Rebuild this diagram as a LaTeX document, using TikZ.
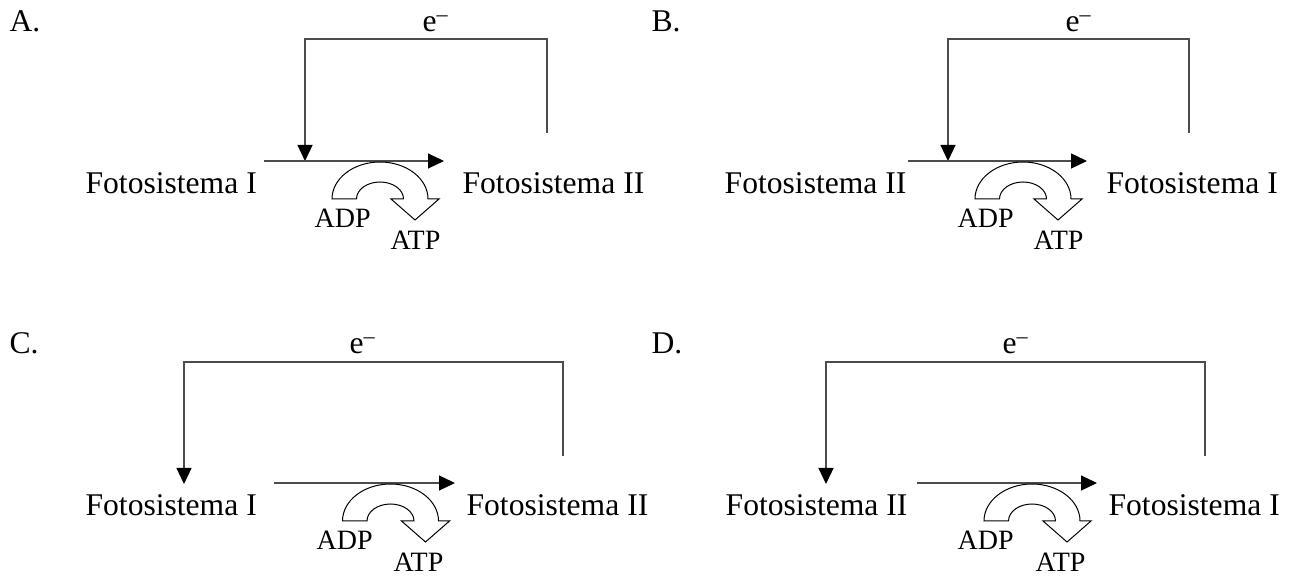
\documentclass[tikz,border=0pt]{standalone}
\usepackage{fontspec}
\setmainfont{Liberation Serif}
\usetikzlibrary{arrows.meta}

\begin{document}
\begin{tikzpicture}
  [x=0.5pt,y=-0.5pt,
   line width=0.6pt,
   every node/.style={inner sep=0pt,anchor=base west,font=\fontsize{15.8}{19}\selectfont},
   small/.style={font=\fontsize{14}{17}\selectfont},
   wire/.style={draw=black!70,-{Triangle[length=8pt,width=7.5pt,color=black]}},
   cycle arrow/.pic={
     \draw[fill=white,line width=0.5pt]
       (-48,0) arc[start angle=180,end angle=360,x radius=48,y radius=37]
       -- (59,0) -- (35,21) -- (11,0) -- (23.5,0)
       arc[start angle=360,end angle=180,x radius=23.5,y radius=17] -- cycle;
   }]
  \useasboundingbox (0,0) rectangle (1295,576);

  % A
  \node (alabel) at (9,32) {A.};
  \node (ae) at (422,32) {e\textsuperscript{–}};
  \node (aleft) at (85,194) {Fotosistema I};
  \node (aright) at (462,194) {Fotosistema II};
  \coordinate (atl) at (305,39);
  \coordinate (atr) at (547,39);
  \coordinate (aend) at (547,133);
  \coordinate (ain) at (264,161);
  \coordinate (aout) at (444,161);
  \draw[wire] (aend) -- (atr) -- (atl) -- (atl |- ain);
  \draw[wire] (ain) -- (aout);
  \pic (acycle) at (380,199) {cycle arrow};
  \node[small] (aadp) at (314,228) {ADP};
  \node[small] (aatp) at (390,250) {ATP};

  % B
  \node (blabel) at (651,32) {B.};
  \node (be) at (1065,32) {e\textsuperscript{–}};
  \node[anchor=base east] (bleft) at (907,194) {Fotosistema II};
  \node (bright) at (1106,194) {Fotosistema I};
  \coordinate (btl) at (948,39);
  \coordinate (btr) at (1189,39);
  \coordinate (bend) at (1189,133);
  \coordinate (bin) at (908,161);
  \coordinate (bout) at (1087,161);
  \draw[wire] (bend) -- (btr) -- (btl) -- (btl |- bin);
  \draw[wire] (bin) -- (bout);
  \pic (bcycle) at (1023,199) {cycle arrow};
  \node[small] (badp) at (957,228) {ADP};
  \node[small] (batp) at (1033,250) {ATP};

  % C
  \node (clabel) at (9,354) {C.};
  \node (ce) at (349,354) {e\textsuperscript{–}};
  \node (cleft) at (85,516) {Fotosistema I};
  \node (cright) at (466,516) {Fotosistema II};
  \coordinate (ctl) at (184,362);
  \coordinate (ctr) at (563,362);
  \coordinate (cend) at (563,456);
  \coordinate (ctip) at (184,484);
  \coordinate (cin) at (274,483);
  \coordinate (cout) at (455,483);
  \draw[wire] (cend) -- (ctr) -- (ctl) -- (ctip);
  \draw[wire] (cin) -- (cout);
  \pic (ccycle) at (390.5,521) {cycle arrow};
  \node[small] (cadp) at (316,550) {ADP};
  \node[small] (catp) at (393,572) {ATP};

  % D
  \node (dlabel) at (651,354) {D.};
  \node (de) at (1002,354) {e\textsuperscript{–}};
  \node[anchor=base east] (dleft) at (908,516) {Fotosistema II};
  \node (dright) at (1108,516) {Fotosistema I};
  \coordinate (dtl) at (826,362);
  \coordinate (dtr) at (1205,362);
  \coordinate (dend) at (1205,456);
  \coordinate (dtip) at (826,484);
  \coordinate (din) at (917,483);
  \coordinate (dout) at (1097,483);
  \draw[wire] (dend) -- (dtr) -- (dtl) -- (dtip);
  \draw[wire] (din) -- (dout);
  \pic (dcycle) at (1032,521) {cycle arrow};
  \node[small] (dadp) at (957,550) {ADP};
  \node[small] (datp) at (1035,572) {ATP};
\end{tikzpicture}
\end{document}
